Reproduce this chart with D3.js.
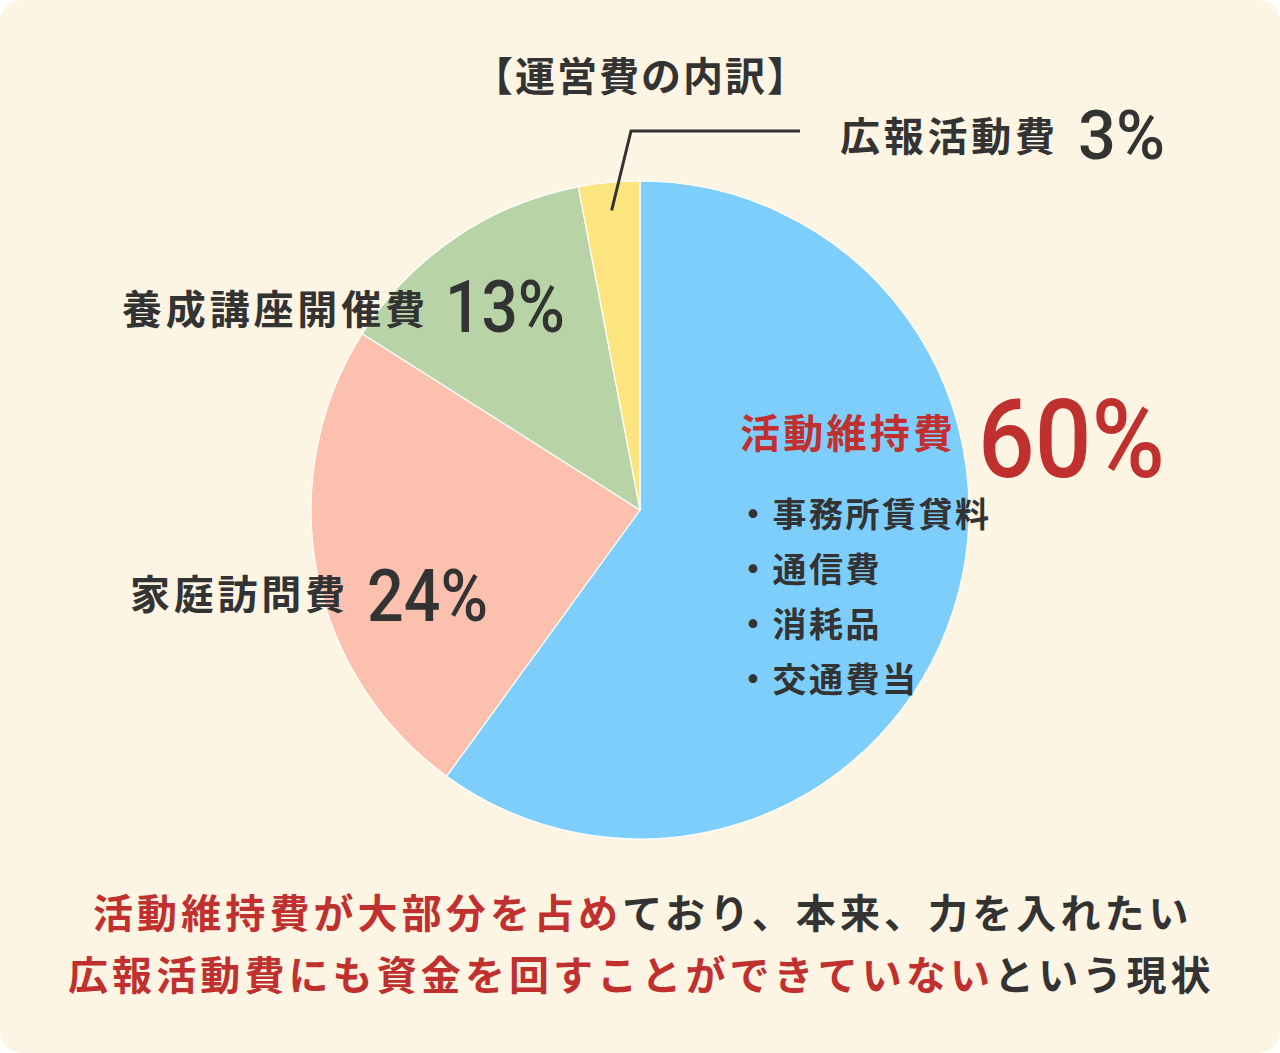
<!DOCTYPE html>
<html><head><meta charset="utf-8">
<script src="https://cdn.jsdelivr.net/npm/d3@7"></script>
<style>
html,body{margin:0;padding:0;background:#fff;}
svg{display:block;}
text{font-family:"Noto Sans CJK JP","Noto Sans",sans-serif;font-weight:700;}
</style></head>
<body>
<svg id="c" width="1280" height="1053"></svg>
<script>
const categories = ["活動維持費", "家庭訪問費", "養成講座開催費", "広報活動費"];
const values = [60, 24, 13, 3];
const valueLabels = ["60%", "24%", "13%", "3%"];
const colors = ["#7dcefa", "#fcc0ae", "#b8d3a5", "#fce57e"];
const subItems = ["事務所賃貸料", "通信費", "消耗品", "交通費当"];
const title = "【運営費の内訳】";
const noteLine1 = [["活動維持費が大部分を占め", "red"], ["ており、本来、力を入れたい", "dark"]];
const noteLine2 = [["広報活動費にも資金を回すことができていない", "red"], ["という現状", "dark"]];

const RED = "#c0302f", DARK = "#333333";
const svg = d3.select("#c");
svg.append("rect").attr("x",0).attr("y",0).attr("width",1280).attr("height",1053)
  .attr("rx",22).attr("fill","#fdf5e3");

const cx = 640, cy = 510, r = 329;
const data = categories.map((c,i)=>({cat:c, v:values[i], color:colors[i], label:valueLabels[i]}));
const pie = d3.pie().value(d=>d.v).sort(null);
const arc = d3.arc().innerRadius(0).outerRadius(r);
const g = svg.append("g").attr("transform",`translate(${cx},${cy})`);
const arcs = pie(data);
g.selectAll("path").data(arcs).enter().append("path")
  .attr("d",arc).attr("fill",d=>d.data.color)
  .attr("stroke","#ffffff").attr("stroke-width",1.2);

// title
svg.append("text").attr("x",640).attr("y",91).attr("text-anchor","middle")
  .attr("font-size",40).attr("font-weight",600).attr("textLength",334).attr("fill",DARK).text(title);

// leader line for smallest slice
const small = arcs[3];
const mid = (small.startAngle+small.endAngle)/2;
const rIn = r - 28;
const p0 = [cx + rIn*Math.sin(mid), cy - rIn*Math.cos(mid)];
svg.append("polyline")
  .attr("points", `${p0[0]},${p0[1]} 631,131 800,131`)
  .attr("fill","none").attr("stroke",DARK).attr("stroke-width",3);

// label layout: [name x, name baseline, name width, pct x, pct baseline, pct width, pct size, colour]
const layout = [
  [740, 448, 213, 978, 477, 187, 110, RED],
  [130, 609, 215, 367, 621, 121, 72, DARK],
  [122, 324, 303, 445, 332, 120, 72, DARK],
  [840, 151, 215, 1078, 159, 87, 68, DARK]
];
data.forEach((d,i)=>{
  const L = layout[i];
  svg.append("text").attr("x",L[0]).attr("y",L[1]).attr("font-size",40).attr("font-weight",600)
    .attr("textLength",L[2]).attr("fill",L[7]).text(d.cat);
  svg.append("text").attr("x",L[3]).attr("y",L[4]).attr("font-size",L[6])
    .style("font-family","Roboto, 'Noto Sans', sans-serif").style("font-weight",500)
    .attr("textLength",L[5]).attr("lengthAdjust","spacingAndGlyphs").attr("fill",L[7]).text(d.label);
});

// sub items
subItems.forEach((s,i)=>{
  svg.append("text").attr("x",736).attr("y",527 + i*55).attr("font-size",34).attr("font-weight",600)
    .attr("letter-spacing",2.5).attr("fill",DARK).text("・" + s);
});

// note lines
function note(x, y, parts){
  const t = svg.append("text").attr("x",x).attr("y",y).attr("font-size",40).attr("letter-spacing",4.1);
  parts.forEach(p=>t.append("tspan").attr("fill",p[1]==="red"?RED:DARK).text(p[0]));
}
note(93, 928, noteLine1);
note(68, 990, noteLine2);
</script>
</body></html>
